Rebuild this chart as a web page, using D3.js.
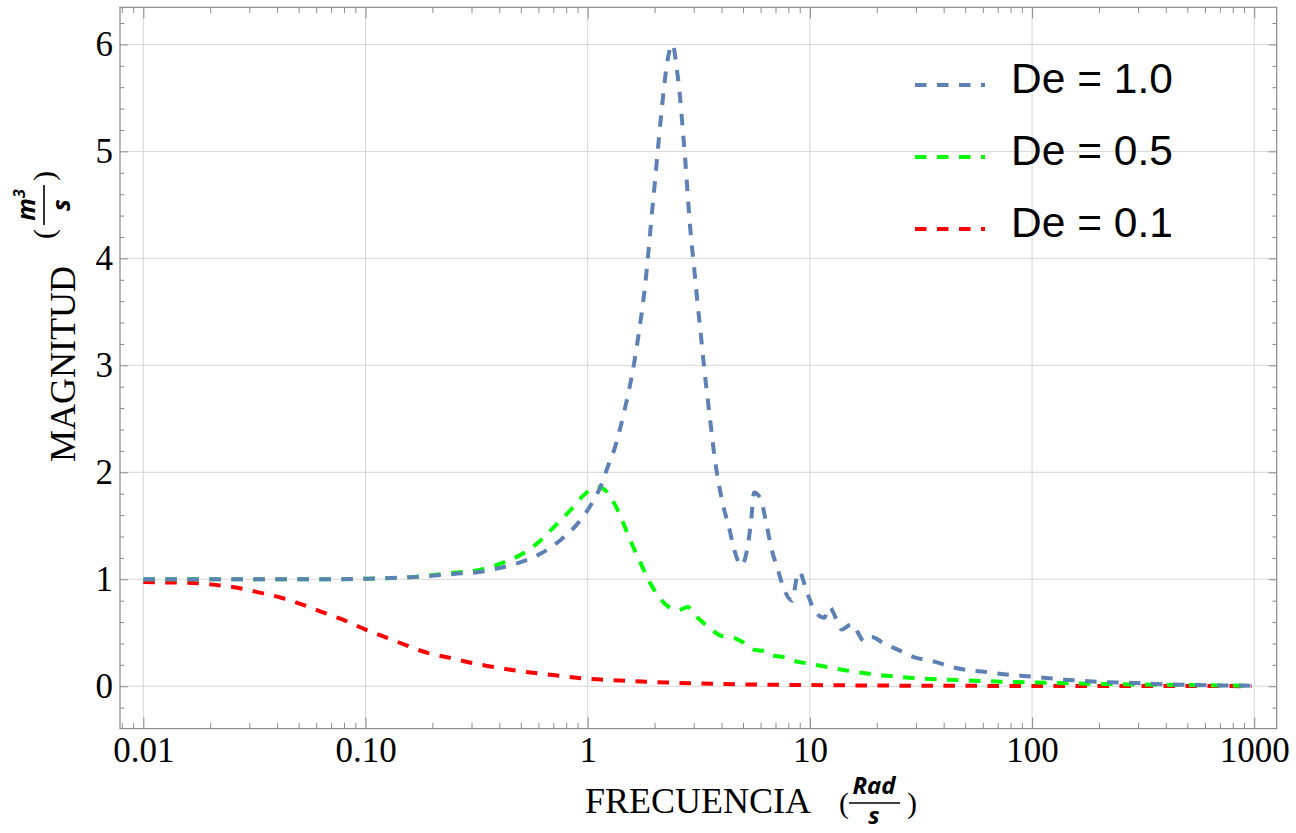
<!DOCTYPE html>
<html><head><meta charset="utf-8">
<script src="https://cdn.jsdelivr.net/npm/d3@7"></script>
<style>body{margin:0;background:#fff} svg{display:block}</style>
</head><body>
<svg id="c" width="1296" height="833"></svg>
<script>
// ---- data ----
const freqBlue = [0.01,0.03,0.06,0.1,0.16,0.25,0.33,0.41,0.5,0.615,0.757,0.9,1.03,1.145,1.25,1.316,1.387,1.461,1.538,1.621,1.706,1.798,1.874,1.941,2.015,2.065,2.137,2.198,2.275,2.34,2.397,2.45,2.5,2.606,2.679,2.742,2.818,2.897,3.0,3.105,3.214,3.35,3.53,3.72,4.05,4.33,4.56,4.91,5.28,5.44,5.61,5.97,6.36,6.69,7.2,7.58,8.33,8.68,8.96,9.63,10.47,11.6,12.2,13.4,13.9,15.4,17.6,18.9,21.6,25.0,29.6,36.4,43.4,51.8,61.1,73,103,146,206,290,413,977];
const magBlue  = [1.0,1.0,1.0,1.005,1.02,1.05,1.07,1.11,1.16,1.24,1.37,1.52,1.69,1.87,2.09,2.21,2.38,2.57,2.78,3.03,3.33,3.68,4.05,4.40,4.75,5.0,5.32,5.57,5.82,5.95,6.0,5.95,5.82,5.50,5.2,4.95,4.6,4.27,3.95,3.63,3.33,2.96,2.55,2.15,1.71,1.48,1.28,1.13,1.34,1.55,1.81,1.76,1.53,1.30,1.08,0.93,0.80,0.99,1.07,0.90,0.71,0.64,0.74,0.59,0.53,0.58,0.42,0.46,0.40,0.34,0.27,0.23,0.18,0.15,0.135,0.115,0.087,0.059,0.04,0.03,0.017,0.005];

const freqGreen = [0.01,0.03,0.06,0.1,0.16,0.25,0.33,0.41,0.5,0.604,0.706,0.84,0.964,1.109,1.167,1.316,1.436,1.565,1.706,1.893,2.137,2.54,2.818,3.127,3.47,3.99,4.58,4.91,5.63,6.25,6.69,7.69,8.39,10,15.4,25.8,43.4,73,206,977];
const magGreen  = [1.0,1.0,1.0,1.005,1.02,1.06,1.09,1.15,1.23,1.35,1.49,1.65,1.79,1.86,1.85,1.71,1.54,1.35,1.18,0.98,0.81,0.71,0.74,0.64,0.56,0.47,0.45,0.42,0.34,0.33,0.29,0.27,0.24,0.21,0.14,0.085,0.06,0.043,0.022,0.005];

const freqRed = [0.01,0.0132,0.0168,0.0206,0.0265,0.0326,0.0414,0.0509,0.0625,0.0795,0.1,0.126,0.154,0.192,0.241,0.297,0.353,0.5,0.66,1.0,1.51,2.28,3.72,7.45,15.4,73,977];
const magRed  = [0.975,0.97,0.965,0.95,0.92,0.88,0.83,0.77,0.70,0.62,0.53,0.45,0.38,0.31,0.265,0.22,0.19,0.14,0.11,0.07,0.05,0.035,0.022,0.013,0.008,0.003,0.001];

const seriesNames  = ["De = 1.0","De = 0.5","De = 0.1"];
const seriesColors = ["#5E81B5","#00FF00","#FF0000"];

const xTickValues = [0.01,0.1,1,10,100,1000];
const xTickLabels = ["0.01","0.10","1","10","100","1000"];
const yTickValues = [0,1,2,3,4,5,6];
const yTickLabels = ["0","1","2","3","4","5","6"];

// ---- drawing ----
const svg = d3.select("#c");
svg.append("rect").attr("width",1296).attr("height",833).attr("fill","#fff");
const L=120, R=1276.7, T=7.3, B=728.6;
const x = d3.scaleLog().domain([Math.pow(10,-2.105), Math.pow(10,3.101)]).range([L,R]);
const y = d3.scaleLinear().domain([-0.396, 6.347]).range([B,T]);

const xMinor = [];
for (let k=-3;k<=3;k++) for (let m=2;m<=9;m++){ const v=m*Math.pow(10,k); if (v>=x.domain()[0] && v<=x.domain()[1]) xMinor.push(v); }
const yMinor = [];
for (let i=-2;i<=31;i++){ if (i%5!==0) { const v=i/5; if (v>=y.domain()[0] && v<=y.domain()[1]) yMinor.push(v);} }

// grid
const grid = svg.append("g").attr("stroke","#d6d6d6").attr("stroke-width",1);
grid.selectAll("line.gx").data(xTickValues).join("line").attr("class","gx")
  .attr("x1",d=>x(d)).attr("x2",d=>x(d)).attr("y1",T).attr("y2",B);
grid.selectAll("line.gy").data(yTickValues).join("line").attr("class","gy")
  .attr("x1",L).attr("x2",R).attr("y1",d=>y(d)).attr("y2",d=>y(d));

const frameColor = "#8a8a8a";
function styleAxis(g){
  g.select(".domain").remove();
  g.selectAll(".tick line").attr("stroke",frameColor);
  g.selectAll("text").attr("font-family","'Liberation Serif','Times New Roman',serif").attr("font-size",35).attr("fill","#000");
}
// bottom
svg.append("g").attr("transform",`translate(0,${B})`)
  .call(d3.axisBottom(x).tickValues(xTickValues).tickFormat((d,i)=>xTickLabels[i]).tickSize(-11).tickPadding(9)).call(styleAxis);
svg.append("g").attr("transform",`translate(0,${B})`)
  .call(d3.axisBottom(x).tickValues(xMinor).tickFormat("").tickSize(-5.7)).call(styleAxis);
// top
svg.append("g").attr("transform",`translate(0,${T})`)
  .call(d3.axisTop(x).tickValues(xTickValues).tickFormat("").tickSize(-11)).call(styleAxis);
svg.append("g").attr("transform",`translate(0,${T})`)
  .call(d3.axisTop(x).tickValues(xMinor).tickFormat("").tickSize(-5.7)).call(styleAxis);
// left
svg.append("g").attr("transform",`translate(${L},0)`)
  .call(d3.axisLeft(y).tickValues(yTickValues).tickFormat((d,i)=>yTickLabels[i]).tickSize(-8).tickPadding(7)).call(styleAxis);
svg.append("g").attr("transform",`translate(${L},0)`)
  .call(d3.axisLeft(y).tickValues(yMinor).tickFormat("").tickSize(-4.3)).call(styleAxis);
// right
svg.append("g").attr("transform",`translate(${R},0)`)
  .call(d3.axisRight(y).tickValues(yTickValues).tickFormat("").tickSize(-8)).call(styleAxis);
svg.append("g").attr("transform",`translate(${R},0)`)
  .call(d3.axisRight(y).tickValues(yMinor).tickFormat("").tickSize(-4.3)).call(styleAxis);

// frame
svg.append("rect").attr("x",L).attr("y",T).attr("width",R-L).attr("height",B-T)
  .attr("fill","none").attr("stroke",frameColor).attr("stroke-width",1.2);

// clip
svg.append("clipPath").attr("id","clip").append("rect").attr("x",L).attr("y",T).attr("width",R-L).attr("height",B-T);

const line = d3.line().x(d=>x(d[0])).y(d=>y(d[1])).curve(d3.curveMonotoneX);
const series = [
  {f:freqRed, m:magRed, c:seriesColors[2]},
  {f:freqGreen, m:magGreen, c:seriesColors[1]},
  {f:freqBlue, m:magBlue, c:seriesColors[0]}
];
const plot = svg.append("g").attr("clip-path","url(#clip)");
series.forEach(s=>{
  plot.append("path").datum(s.f.map((f,i)=>[f,s.m[i]]))
    .attr("d",line).attr("fill","none").attr("stroke",s.c)
    .attr("stroke-width",4).attr("stroke-dasharray","11.5,10.5");
});

// legend
const leg = svg.append("g");
seriesNames.forEach((n,i)=>{
  leg.append("line").attr("x1",915).attr("x2",985).attr("y1",85+72*i).attr("y2",85+72*i)
    .attr("stroke",seriesColors[i]).attr("stroke-width",4).attr("stroke-dasharray","11.5,10.5");
  leg.append("text").attr("x",1011).attr("y",93.3+72*i).text(n)
    .attr("font-family","'Liberation Sans',Arial,sans-serif").attr("font-size",42.5).attr("fill","#000");
});

// axis labels
const serif = "'Liberation Serif','Times New Roman',serif";
const fracFont = "'Open Sans','DejaVu Sans',sans-serif";
svg.append("text").attr("x",585).attr("y",813).text("FRECUENCIA")
  .attr("font-family",serif).attr("font-size",36).attr("fill","#000");
const xf = svg.append("g").attr("transform","translate(874,803)");
xf.append("text").attr("x",-30).attr("y",10).attr("text-anchor","middle").text("(").attr("font-family",serif).attr("font-size",30);
xf.append("text").attr("x",38).attr("y",10).attr("text-anchor","middle").text(")").attr("font-family",serif).attr("font-size",30);
xf.append("line").attr("x1",-25).attr("x2",26).attr("y1",0).attr("y2",0).attr("stroke","#000").attr("stroke-width",1.6);
xf.append("text").attr("x",0).attr("y",-9).attr("text-anchor","middle").text("Rad")
  .attr("font-family",fracFont).attr("font-weight","bold").attr("font-style","italic").attr("font-size",24);
xf.append("text").attr("x",0).attr("y",21).attr("text-anchor","middle").text("s")
  .attr("font-family",fracFont).attr("font-weight","bold").attr("font-style","italic").attr("font-size",24);

svg.append("text").attr("transform","translate(75,364) rotate(-90)").attr("text-anchor","middle").text("MAGNITUD")
  .attr("font-family",serif).attr("font-size",36).attr("fill","#000");
const yf = svg.append("g").attr("transform","translate(44,205) rotate(-90)");
yf.append("text").attr("x",-29).attr("y",10).attr("text-anchor","middle").text("(").attr("font-family",serif).attr("font-size",30);
yf.append("text").attr("x",29).attr("y",10).attr("text-anchor","middle").text(")").attr("font-family",serif).attr("font-size",30);
yf.append("line").attr("x1",-20).attr("x2",20).attr("y1",0).attr("y2",0).attr("stroke","#000").attr("stroke-width",1.6);
const num = yf.append("text").attr("x",0).attr("y",-9).attr("text-anchor","middle")
  .attr("font-family",fracFont).attr("font-weight","bold").attr("font-style","italic").attr("font-size",25);
num.append("tspan").text("m");
num.append("tspan").text("3").attr("font-size",16).attr("dy",-10);
yf.append("text").attr("x",0).attr("y",26).attr("text-anchor","middle").text("s")
  .attr("font-family",fracFont).attr("font-weight","bold").attr("font-style","italic").attr("font-size",25);
</script>
</body></html>
